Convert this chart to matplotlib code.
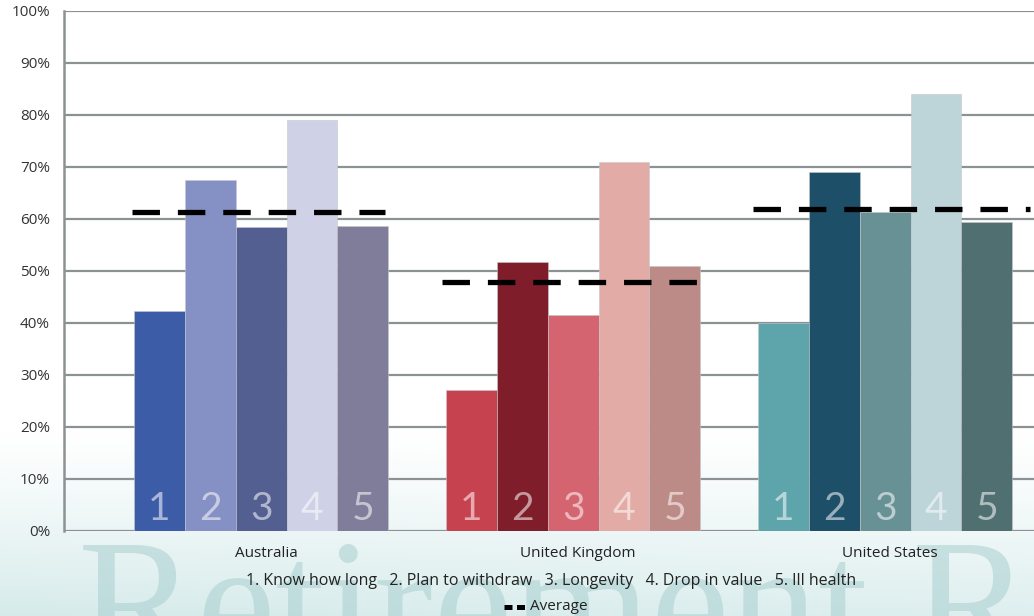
import matplotlib
matplotlib.use("Agg")
import matplotlib.pyplot as plt
import numpy as np

# survey results, share of respondents (%)
countries = ["Australia", "United Kingdom", "United States"]
concerns = ["1. Know how long", "2. Plan to withdraw", "3. Longevity",
            "4. Drop in value", "5. Ill health"]
australia = [42.3, 67.5, 58.5, 79.0, 58.7]
united_kingdom = [27.1, 51.7, 41.5, 71.0, 51.0]
united_states = [40.0, 69.0, 61.3, 84.0, 59.4]
averages = [61.3, 47.9, 62.0]

palettes = [
    ["#3d5ca8", "#8590c4", "#545f91", "#cfd1e6", "#807d9b"],
    ["#c6424f", "#7f1d2a", "#d4646f", "#e3aba5", "#bd8b87"],
    ["#5ea4ab", "#1d4f69", "#689196", "#bdd4d9", "#4f6f70"],
]

plt.rcParams["font.family"] = ["Open Sans", "DejaVu Sans"]

fig = plt.figure(figsize=(10.34, 6.16), dpi=100)

# soft teal wash at the bottom plus the faint watermark
bg = fig.add_axes([0, 0, 1, 1], zorder=-5)
yy = np.linspace(0, 1, 616)[:, None]
t = np.clip((0.30 - yy) / 0.30, 0, 1) ** 1.2
xx = np.linspace(0, 1, 1034)[None, :]
t = t * (1.0 - 0.2 * xx)
white = np.array([1.0, 1.0, 1.0])
teal = np.array([0.84, 0.92, 0.92])
img = white[None, None, :] * (1 - t[..., None]) + teal[None, None, :] * t[..., None]
bg.imshow(img, extent=[0, 1, 0, 1], aspect="auto", origin="lower")
bg.text(78 / 1034, -0.075, "Retirement R", fontsize=128, family="Liberation Serif",
        color="#a9cfd0", alpha=0.55, ha="left", va="baseline",
        transform=bg.transAxes)
bg.set_xlim(0, 1)
bg.set_ylim(0, 1)
bg.axis("off")

ax = fig.add_axes([64 / 1034, 85 / 616, 1 - 64 / 1034, 520 / 616])
ax.set_facecolor("none")

group_step = 6.14
series = [australia, united_kingdom, united_states]
avg_spans = [(-0.54, 4.44), (-0.58, 4.44), (-0.6, 4.86)]
grid_c = "#8c9294"

for g, values in enumerate(series):
    x0 = g * group_step
    xs = x0 + np.arange(len(values))
    ax.bar(xs, values, width=1.0, color=palettes[g], zorder=3,
           edgecolor="#c4c7cc", linewidth=0.4)
    for i, x in enumerate(xs):
        ax.text(x, 4.3, str(i + 1), ha="center", va="center", fontsize=28,
                family="Lato", color="white", alpha=0.55, zorder=4)
    a, b = avg_spans[g]
    ax.plot([x0 + a, x0 + b], [averages[g], averages[g]], color="black",
            lw=3.8, dashes=(5.2, 3.4), solid_capstyle="butt",
            dash_capstyle="butt", zorder=5)
    ax.text(x0 + 2.1, -4.4, countries[g], ha="center", va="center",
            fontsize=11, color="#222222")

for v in range(0, 101, 10):
    ax.axhline(v, color=grid_c, lw=1.6, zorder=1)

ax.set_xlim(-1.88, 17.21)
ax.set_ylim(0, 100)
ax.set_yticks(range(0, 101, 10))
ax.set_yticklabels([f"{v}%" for v in range(0, 101, 10)], fontsize=11,
                   color="#333333")
ax.tick_params(axis="y", length=0, pad=10)
ax.set_xticks([])
for side in ["top", "right", "bottom"]:
    ax.spines[side].set_visible(False)
ax.spines["left"].set_color(grid_c)
ax.spines["left"].set_linewidth(1.8)

fig.text(551 / 1034, 1 - 581 / 616, "   ".join(concerns), ha="center",
         va="center", fontsize=11.5, color="#222222")
fig.lines.append(plt.Line2D([504 / 1034, 526 / 1034],
                            [1 - 607 / 616, 1 - 607 / 616], color="black",
                            lw=3.6, dashes=(1.6, 0.9), solid_capstyle="butt",
                            dash_capstyle="butt", transform=fig.transFigure))
fig.text(530 / 1034, 1 - 606 / 616, "Average", ha="left", va="center",
         fontsize=11, color="#222222")

fig.savefig("out.png", dpi=100)
